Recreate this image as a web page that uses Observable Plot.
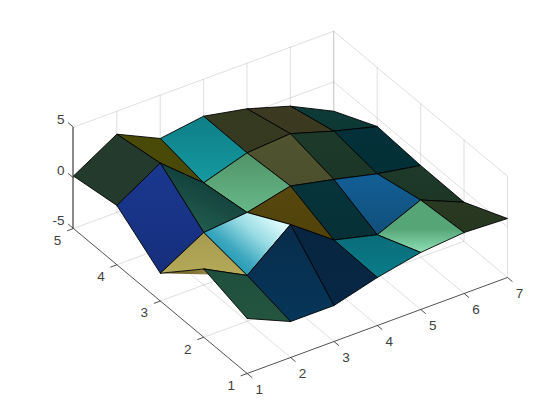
<!DOCTYPE html>
<html>
<head>
<meta charset="utf-8">
<style>html,body{margin:0;padding:0;background:#fff}</style>
<script src="https://cdn.jsdelivr.net/npm/d3@7"></script>
<script src="https://cdn.jsdelivr.net/npm/@observablehq/plot@0.6"></script>
</head>
<body>
<div id="chart"></div>
<script>
// Data: surface heights z, one row per y value, one column per x value
const xTicks = [1, 2, 3, 4, 5, 6, 7];
const yTicks = [1, 2, 3, 4, 5];
const zTicks = [-5, 0, 5];
const zRow1 = [0.43, -1.45, -1.45, -0.26, 0.63, 1.02, 0.82];
const zRow2 = [1.74, -0.48, 2.97, -0.14, -1.20, 0.65, -1.15];
const zRow3 = [-2.26, 0.18, 0.58, 1.61, 0.68, -0.34, -1.10];
const zRow4 = [0.85, 3.45, -0.07, 1.31, 1.62, 0.29, -0.83];
const zRow5 = [0.18, 2.73, 0.73, 1.35, 0.50, -0.82, -2.90];
const zRows = [zRow1, zRow2, zRow3, zRow4, zRow5];

// Face shading, one row per y interval: colour stops across the face
const faceRow1 = [["#1f4f3e","#24553f"],["#082c4a","#06365a"],["#072540","#062744"],["#0a6c78","#0a7c8a"],["#55a577","#90e0b8"],["#2a3a22","#26361f"]];
const faceRow2 = [["#a69a50","#b4aa58"],["#0d8ea8","#3fa9c0","#9adce4","#dcfbfb"],["#584810","#504208"],["#06343a","#063036"],["#125f96","#114f7a"],["#1e3a2a","#1d3626"]];
const faceRow3 = [["#1a3890","#162f7c"],["#22604f","#0f3838"],["#4f9468","#68b888"],["#50542f","#4c4f2c"],["#1c3a2a","#1c3626"],["#04303a","#033036"]];
const faceRow4 = [["#233a2c","#233b2d"],["#4a4a08","#4a4a08"],["#0e7e86","#169aa0"],["#343a20","#35391f"],["#3c3a22","#3a3a20"],["#0d3a38","#0d3834"]];
const faceRows = [faceRow1, faceRow2, faceRow3, faceRow4];
const foldShade = ["#574a18", "#c8b868"];

// View: where one unit along each data axis goes on the page
const origin = [246.7, 373];
const xStep = [43.38, -16];
const yStep = [-43.43, -36.25];
const zStep = [0, -10.13];
const project = (x, y, z) => [
  origin[0] + (x - 1) * xStep[0] + (y - 1) * yStep[0] + (z + 5) * zStep[0],
  origin[1] + (x - 1) * xStep[1] + (y - 1) * yStep[1] + (z + 5) * zStep[1]
];
const xMin = 1, xMax = 7, yMin = 1, yMax = 5, zMin = -5, zMax = 5;

function seg(a, b) {
  const p = project(...a), q = project(...b);
  return {x1: p[0], y1: p[1], x2: q[0], y2: q[1]};
}

// Grid on floor and the two back walls
const grid = [];
for (const x of xTicks) {
  if (x > xMin && x < xMax) grid.push(seg([x, yMin, zMin], [x, yMax, zMin]));
  grid.push(seg([x, yMax, zMin], [x, yMax, zMax]));
}
for (const y of yTicks) {
  if (y > yMin && y < yMax) grid.push(seg([xMin, y, zMin], [xMax, y, zMin]));
  grid.push(seg([xMax, y, zMin], [xMax, y, zMax]));
}
for (const z of zTicks) {
  grid.push(seg([xMin, yMax, z], [xMax, yMax, z]));
  grid.push(seg([xMax, yMin, z], [xMax, yMax, z]));
}

// Axis lines and ticks
const axes = [
  seg([xMin, yMin, zMin], [xMax, yMin, zMin]),
  seg([xMin, yMin, zMin], [xMin, yMax, zMin]),
  ...xTicks.map(x => seg([x, yMin, zMin], [x, yMin - 0.115, zMin])),
  ...yTicks.map(y => seg([xMin, y, zMin], [xMin - 0.15, y, zMin])),
  ...zTicks.map(z => seg([xMin, yMax, z], [xMin, yMax + 0.125, z]))
];
const zAxis = [seg([xMin, yMax, zMin], [xMin, yMax, zMax])];

const at = (a) => { const p = project(...a); return {px: p[0], py: p[1]}; };
const xLabels = xTicks.map(x => ({...at([x, yMin, zMin]), t: String(x)}));
const yLabels = yTicks.map(y => ({...at([xMin, y, zMin]), t: String(y)}));
const zLabels = zTicks.map(z => ({...at([xMin, yMax, z]), t: String(z)}));

// Corners of a face, closed
function corners(i, j) {
  const order = [[i, j], [i + 1, j], [i + 1, j + 1], [i, j + 1], [i, j]];
  return order.map(([a, b]) => at([a + 1, b + 1, zRows[b][a]]));
}

// Gradient directions that reproduce the lighting on each face
const vertical = {x1: 0, y1: 0, x2: 0, y2: 1};
const special = {
  "1,1": {x1: 0.2, y1: 0.9, x2: 0.95, y2: 0.25},
  "1,2": {x1: 0.35, y1: 1, x2: 0.8, y2: 0.2},
  "4,0": {x1: 0, y1: 0.55, x2: 0, y2: 1}
};
const defs = d3.create("svg:defs");
function addGradient(id, cols, dir) {
  const g = defs.append("linearGradient").attr("id", id);
  for (const k of ["x1", "y1", "x2", "y2"]) g.attr(k, dir[k]);
  cols.forEach((c, n) => {
    g.append("stop").attr("offset", n / (cols.length - 1)).attr("stop-color", c);
  });
}
addGradient("fold", foldShade, {x1: 0, y1: 0, x2: 1, y2: 0});

const faceMarks = [];
for (let j = faceRows.length - 1; j >= 0; j--) {
  for (let i = faceRows[j].length - 1; i >= 0; i--) {
    const id = `face${i}-${j}`;
    addGradient(id, faceRows[j][i], special[`${i},${j}`] || vertical);
    if (i === 0 && j === 1) {
      // the folded face also shows its underside below the crease
      const under = [[0, 1], [0, 2], [1, 1], [0, 1]].map(([a, b]) => at([a + 1, b + 1, zRows[b][a]]));
      faceMarks.push(Plot.line(under, {x: "px", y: "py", fill: "url(#fold)", stroke: "none"}));
    }
    faceMarks.push(Plot.line(corners(i, j), {
      x: "px", y: "py", fill: `url(#${id})`, stroke: "#000", strokeWidth: 0.9
    }));
  }
}

const textStyle = {x: "px", y: "py", text: "t", fill: "#404040", fontSize: 13.5};
const chart = Plot.plot({
  width: 560,
  height: 420,
  margin: 0,
  x: {domain: [0, 560], range: [0, 560], axis: null},
  y: {domain: [0, 420], range: [0, 420], axis: null},
  style: {background: "#fff", fontFamily: "'Liberation Sans', Arial, sans-serif"},
  marks: [
    () => defs.node(),
    Plot.link(grid, {x1: "x1", y1: "y1", x2: "x2", y2: "y2", stroke: "#262626", strokeOpacity: 0.15, strokeWidth: 1}),
    Plot.link(zAxis, {x1: "x1", y1: "y1", x2: "x2", y2: "y2", stroke: "#262626", strokeWidth: 1, dx: -0.5}),
    Plot.link(axes, {x1: "x1", y1: "y1", x2: "x2", y2: "y2", stroke: "#262626", strokeWidth: 0.8}),
    Plot.text(xLabels, {...textStyle, dx: 12, dy: 16}),
    Plot.text(yLabels, {...textStyle, dx: -16, dy: 12}),
    Plot.text(zLabels, {...textStyle, textAnchor: "end", dx: -9, dy: -7.5}),
    ...faceMarks
  ]
});
document.getElementById("chart").appendChild(chart);
</script>
</body>
</html>
